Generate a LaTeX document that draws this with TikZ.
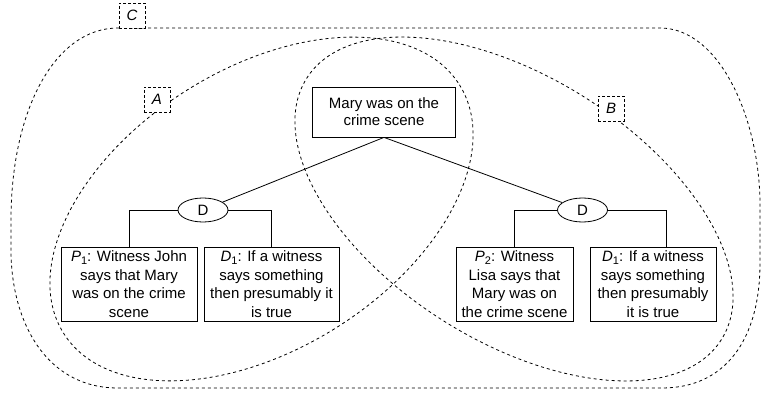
\documentclass[tikz,border=0pt]{standalone}
\usepackage{fontspec}
\setmainfont{Liberation Sans}
\usetikzlibrary{shapes.geometric}

\newcommand{\sub}[1]{\raisebox{-0.35ex}{\fontsize{11}{11}\selectfont #1}}

\begin{document}
\begin{tikzpicture}[x=1pt,y=-1pt,
  txt/.style={font=\fontsize{15}{18.5}\selectfont},
  claim/.style={txt,draw,line width=0.8pt,fill=white,align=center,inner sep=0pt},
  dnode/.style={txt,draw,line width=0.8pt,fill=white,ellipse,inner sep=0pt,
                minimum width=50pt,minimum height=24pt},
  region/.style={line width=0.8pt,dash pattern=on 3pt off 3pt},
  tag/.style={draw,line width=0.8pt,dash pattern=on 3pt off 2pt,fill=white,
              inner sep=0pt,minimum width=26pt,minimum height=25pt,
              font=\fontsize{15}{17}\selectfont\itshape},
  link/.style={line width=0.8pt}]
\useasboundingbox (0,0) rectangle (761,393);

% outer region C
\draw[region]
  (118,28) -- (660,28)
  .. controls (720,28) and (760,120) .. (760,205)
  -- (760,263)
  .. controls (760,340) and (725,388) .. (662,388)
  -- (118,388)
  .. controls (45,388) and (11,320) .. (11,250)
  -- (11,220)
  .. controls (11,110) and (55,28) .. (118,28);

% regions A and B
\draw[region, rotate around={32.1:(261.5,209)}] (261.5,209) ellipse [x radius=233.7, y radius=140.3];
\draw[region, rotate around={-32.2:(514,209)}] (514,209) ellipse [x radius=245.1, y radius=132.2];

% region tags
\node[tag] (tagC) at (132,15.5) {C};
\node[tag] (tagA) at (157,99.5) {A};
\node[tag] (tagB) at (611,108.5) {B};

% claims
\node[claim,minimum width=143pt,minimum height=50pt,font=\fontsize{15}{17}\selectfont] (top) at (384,112)
  {Mary was on the\\crime scene};
\node[dnode] (dl) at (203,210) {D};
\node[dnode] (dr) at (582.5,210) {D};
\node[claim,minimum width=136pt,minimum height=74pt] (p1) at (129,284)
  {\textit{P}\sub{1}: Witness John\\says that Mary\\was on the crime\\scene};
\node[claim,minimum width=135pt,minimum height=74pt] (d1l) at (271.5,284)
  {\textit{D}\sub{1}: If a witness\\says something\\then presumably it\\is true};
\node[claim,minimum width=117pt,minimum height=74pt] (p2) at (514.5,284)
  {\textit{P}\sub{2}: Witness\\Lisa says that\\Mary was on\\the crime scene};
\node[claim,minimum width=126pt,minimum height=74pt] (d1r) at (653,284)
  {\textit{D}\sub{1}: If a witness\\says something\\then presumably\\it is true};

% connectors
\draw[link] (top.south) -- (dl);
\draw[link] (top.south) -- (dr);
\draw[link] (dl.west) -| (p1.north);
\draw[link] (dl.east) -| (d1l.north);
\draw[link] (dr.west) -| (p2.north);
\draw[link] (dr.east) -| ([xshift=13pt]d1r.north);
\end{tikzpicture}
\end{document}
